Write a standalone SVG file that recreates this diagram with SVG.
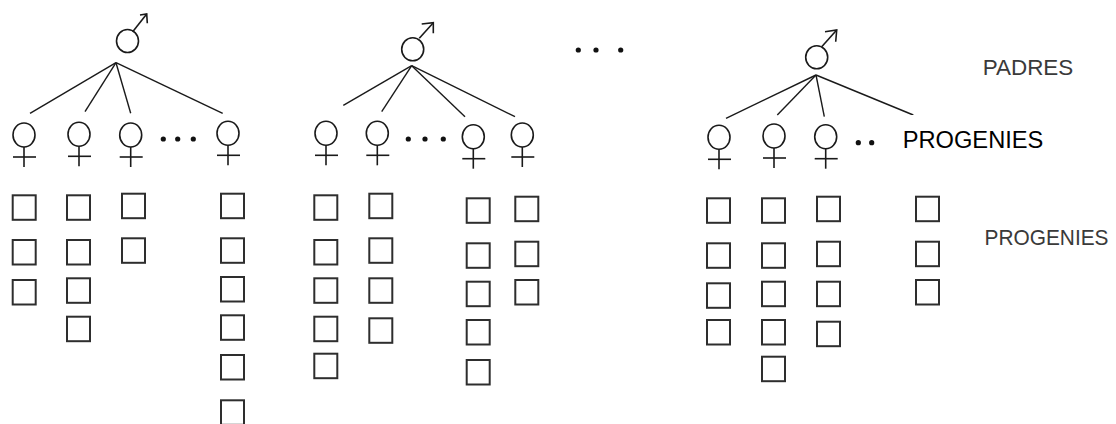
<svg xmlns="http://www.w3.org/2000/svg" width="1116" height="424" viewBox="0 0 1116 424">
<defs>
<style>
.bg{fill:#ffffff}
.box{fill:none;stroke:#2e2e2e;stroke-width:2}
.conn{stroke:#1a1a1a;stroke-width:1.4;fill:none}
.sym{stroke:#1a1a1a;stroke-width:1.6;fill:none}
.dot{fill:#111111}
.lbl{font-family:"Liberation Sans",Arial,sans-serif;font-size:22.5px;fill:#3a3a3a}
.lbl2{font-family:"Liberation Sans",Arial,sans-serif;font-size:23.5px;fill:#000000}
</style>
<g id="male">
<ellipse cx="0" cy="0" rx="11" ry="11.5"/>
</g>
<g id="female">
<ellipse cx="0" cy="0" rx="11" ry="12"/>
<line x1="0" y1="12" x2="0" y2="32"/>
<line x1="-11" y1="22" x2="12" y2="22"/>
</g>
<rect id="sq" x="0" y="0" width="23" height="24.5"/>
</defs>
<rect class="bg" x="0" y="0" width="1116" height="424"/>

<g id="connectors" class="conn">
<line x1="116" y1="62.7" x2="30" y2="113.3"/>
<line x1="116" y1="62.7" x2="85" y2="111.7"/>
<line x1="116" y1="62.7" x2="130.7" y2="113.3"/>
<line x1="116" y1="62.7" x2="222.7" y2="113.3"/>
<line x1="411.7" y1="65.7" x2="343.3" y2="105.3"/>
<line x1="411.7" y1="65.7" x2="381.7" y2="111.7"/>
<line x1="411.7" y1="65.7" x2="465" y2="116.7"/>
<line x1="411.7" y1="65.7" x2="515" y2="116.7"/>
<line x1="816" y1="75" x2="726" y2="118.3"/>
<line x1="816" y1="75" x2="777.3" y2="115"/>
<line x1="816" y1="75" x2="824.3" y2="116.7"/>
<line x1="816" y1="75" x2="913.3" y2="115"/>
</g>

<g id="padre1" class="sym">
<use href="#male" x="127.5" y="41"/>
<polyline points="132.7,31.7 146.7,14"/>
<polyline points="140,15 146.7,14 147.3,23.3"/>
</g>
<g id="padre2" class="sym">
<use href="#male" x="412.7" y="49.3"/>
<polyline points="419.3,38.3 433.3,22.7"/>
<polyline points="421.7,24 433.3,22.7 433.3,33.3"/>
</g>
<g id="padre3" class="sym">
<use href="#male" x="816.7" y="57.3"/>
<polyline points="821.7,46.7 836.7,30"/>
<polyline points="825,31.7 836.7,30 835.7,41.7"/>
</g>

<g id="madres1" class="sym">
<use href="#female" x="24" y="135"/>
<use href="#female" x="79" y="134.3"/>
<use href="#female" x="130.7" y="135"/>
<use href="#female" x="228" y="133.3"/>
</g>
<g id="madres2" class="sym">
<use href="#female" x="326" y="133.3"/>
<use href="#female" x="377.3" y="133.3"/>
<use href="#female" x="473.3" y="136.7"/>
<use href="#female" x="522.3" y="135"/>
</g>
<g id="madres3" class="sym">
<use href="#female" x="719" y="137.3"/>
<use href="#female" x="774" y="136"/>
<use href="#female" x="825.7" y="136.7"/>
</g>

<g id="dots" class="dot">
<circle cx="163.3" cy="139" r="2.6"/>
<circle cx="177.7" cy="139" r="2.6"/>
<circle cx="193.3" cy="139" r="2.6"/>
<circle cx="408.3" cy="139" r="2.6"/>
<circle cx="425" cy="139" r="2.6"/>
<circle cx="443.3" cy="139" r="2.6"/>
<circle cx="858.3" cy="142.7" r="2.6"/>
<circle cx="871.7" cy="142.7" r="2.6"/>
<circle cx="578.3" cy="50" r="2.6"/>
<circle cx="596" cy="50" r="2.6"/>
<circle cx="620.7" cy="50" r="2.6"/>
</g>

<g id="progenies1" class="box">
<use href="#sq" x="12.7" y="195.3"/>
<use href="#sq" x="12.7" y="240"/>
<use href="#sq" x="12.7" y="280"/>
<use href="#sq" x="67" y="195.3"/>
<use href="#sq" x="67" y="240"/>
<use href="#sq" x="67" y="278.3"/>
<use href="#sq" x="67" y="316.7"/>
<use href="#sq" x="122" y="193.7"/>
<use href="#sq" x="122" y="238.3"/>
<use href="#sq" x="221" y="193.7"/>
<use href="#sq" x="221" y="238.3"/>
<use href="#sq" x="221" y="277"/>
<use href="#sq" x="221" y="315.3"/>
<use href="#sq" x="221" y="355"/>
<use href="#sq" x="221" y="400.3"/>
</g>
<g id="progenies2" class="box">
<use href="#sq" x="314.3" y="195.3"/>
<use href="#sq" x="314.3" y="240"/>
<use href="#sq" x="314.3" y="278.3"/>
<use href="#sq" x="314.3" y="316.7"/>
<use href="#sq" x="314.3" y="353.7"/>
<use href="#sq" x="369.3" y="193.7"/>
<use href="#sq" x="369.3" y="238.3"/>
<use href="#sq" x="369.3" y="278.3"/>
<use href="#sq" x="369.3" y="318.3"/>
<use href="#sq" x="466.7" y="198.3"/>
<use href="#sq" x="466.7" y="243.3"/>
<use href="#sq" x="466.7" y="281.7"/>
<use href="#sq" x="466.7" y="320"/>
<use href="#sq" x="466.7" y="360"/>
<use href="#sq" x="515.3" y="196.7"/>
<use href="#sq" x="515.3" y="241.7"/>
<use href="#sq" x="515.3" y="280"/>
</g>
<g id="progenies3" class="box">
<use href="#sq" x="707" y="198.3"/>
<use href="#sq" x="707" y="243.3"/>
<use href="#sq" x="707" y="283.3"/>
<use href="#sq" x="707" y="320"/>
<use href="#sq" x="762" y="198.3"/>
<use href="#sq" x="762" y="243.3"/>
<use href="#sq" x="762" y="281.7"/>
<use href="#sq" x="762" y="320"/>
<use href="#sq" x="762" y="356.7"/>
<use href="#sq" x="817" y="196.7"/>
<use href="#sq" x="817" y="241.7"/>
<use href="#sq" x="817" y="281.7"/>
<use href="#sq" x="817" y="321.7"/>
<use href="#sq" x="916" y="196.7"/>
<use href="#sq" x="916" y="241.7"/>
<use href="#sq" x="916" y="280"/>
</g>

<g id="label-padres">
<text class="lbl" x="982.7" y="75" textLength="90.6" lengthAdjust="spacingAndGlyphs">PADRES</text>
</g>
<g id="label-progenies">
<text class="lbl" style="font-size:20.5px" transform="translate(984.5,245) scale(1,1.1)" x="0" y="0" textLength="124" lengthAdjust="spacingAndGlyphs">PROGENIES</text>
</g>
<g id="label-progenies-box">
<rect class="bg" x="883.3" y="115" width="198.4" height="52"/>
<text class="lbl2" x="902.7" y="148.3" textLength="140.7" lengthAdjust="spacingAndGlyphs">PROGENIES</text>
</g>
</svg>
